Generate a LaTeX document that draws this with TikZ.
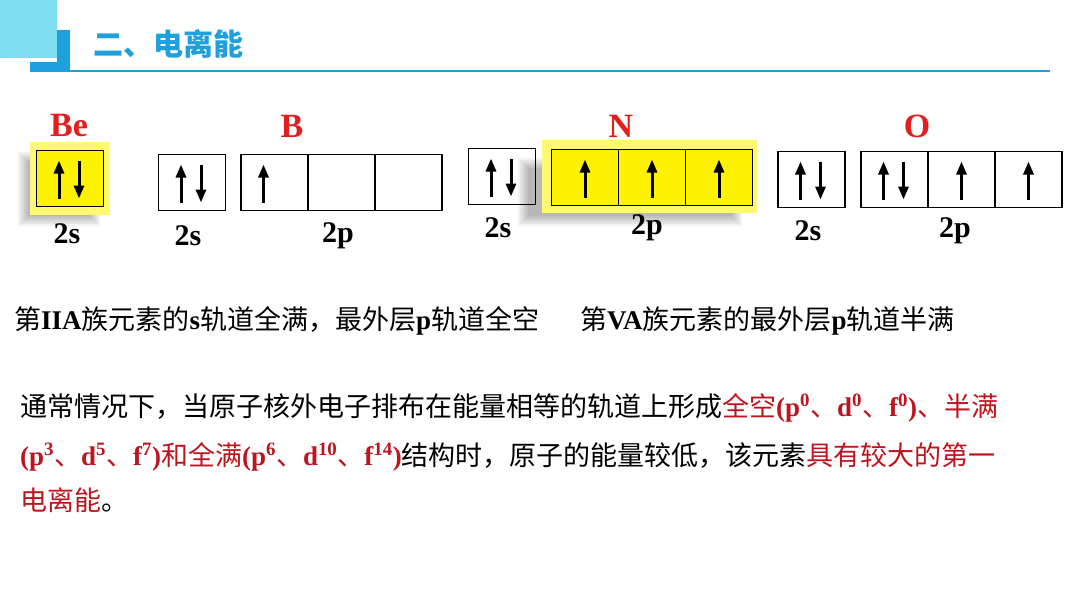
\documentclass[tikz,border=0pt]{standalone}
\usepackage{fontspec}
\setmainfont{Liberation Serif}
\newfontfamily\cjk{Noto Sans CJK SC}
\usetikzlibrary{arrows.meta,positioning}
\definecolor{hdblue}{RGB}{30,160,220}
\definecolor{hdlight}{RGB}{125,220,240}
\definecolor{elred}{RGB}{226,30,30}
\definecolor{txred}{RGB}{190,20,30}
\newcommand\zh[1]{{\cjk\mdseries #1}}
\newcommand\spinup[2]{\draw[spin]([xshift=#2,yshift=8pt]#1.south)--([xshift=#2,yshift=-10pt]#1.north);}
\newcommand\spindn[2]{\draw[spin]([xshift=#2,yshift=-10pt]#1.north)--([xshift=#2,yshift=8pt]#1.south);}
\newcommand\softshadow[4]{\foreach\k in{0,2,...,10}{\fill[black,fill opacity=.05](#1+\k,#2+\k)rectangle(#3-\k,#4-\k);}}

\begin{document}
\begin{tikzpicture}[x=1pt,y=-1pt,every node/.style={font=\fontsize{27}{32}\selectfont\bfseries},
  cell/.style={draw,line width=1.8pt,minimum width=67pt,minimum height=56pt,inner sep=0pt,outer sep=0pt},
  spin/.style={line width=3pt,-{Triangle[length=13pt,width=10pt]}},
  elem/.style={text=elred,font=\fontsize{34}{38}\selectfont\bfseries},
  orbl/.style={font=\fontsize{30}{34}\selectfont\bfseries},
  line/.style={anchor=base west,inner sep=0pt}]
\useasboundingbox(0,0)rectangle(1080,608);
\fill[white](0,0)rectangle(1080,608);
% header
\fill[hdlight](0,0)rectangle(57,58);
\fill[hdblue](57,30)rectangle(70,72);\fill[hdblue](30,62)rectangle(70,72);
\draw[hdblue,line width=1.5pt](70,71)--(1050,71);
\node[anchor=west,text=hdblue,font=\fontsize{30}{34}\selectfont\cjk\bfseries](title)at(90,44){二、电离能};
% Be
\softshadow{18}{152}{100}{226}
\fill[yellow!55](30,142)rectangle(110,215);
\node[cell,fill=yellow](bes)at(70,178.5){};
\spinup{bes}{-11pt}\spindn{bes}{9pt}
\node[elem](belab)at(69,126){Be};\node[orbl](bes2)at(67,234){2s};
% B
\node[cell](bs)at(192,182.5){};
\node[cell](bp1)at(274.5,182.5){};\node[cell,right=0pt of bp1](bp2){};\node[cell,right=0pt of bp2](bp3){};
\spinup{bs}{-11pt}\spindn{bs}{9pt}\spinup{bp1}{-11pt}
\node[elem](blab)at(292,126){B};\node[orbl](bs2)at(188,236){2s};\node[orbl](bp2l)at(338,236){2p};
% N
\softshadow{518}{158}{742}{226}
\fill[yellow!55](542,140)rectangle(757,213);
\node[cell](ns)at(502,176.5){};
\node[cell,fill=yellow](np1)at(585,177.5){};\node[cell,fill=yellow,right=0pt of np1](np2){};\node[cell,fill=yellow,right=0pt of np2](np3){};
\spinup{ns}{-11pt}\spindn{ns}{9pt}\spinup{np1}{0pt}\spinup{np2}{0pt}\spinup{np3}{0pt}
\node[elem](nlab)at(621,126){N};\node[orbl](ns2)at(498,228){2s};\node[orbl](np2l)at(647,228){2p};
% O
\node[cell](os)at(811.5,179.5){};
\node[cell](op1)at(894.5,179.5){};\node[cell,right=0pt of op1](op2){};\node[cell,right=0pt of op2](op3){};
\spinup{os}{-11pt}\spindn{os}{9pt}\spinup{op1}{-11pt}\spindn{op1}{9pt}\spinup{op2}{0pt}\spinup{op3}{0pt}
\node[elem](olab)at(917,126){O};\node[orbl](os2)at(808,231){2s};\node[orbl](op2l)at(955,231){2p};
% text
\node[line](ln1)at(14,329){\zh{第}IIA\zh{族元素的}s\zh{轨道全满，最外层}p\zh{轨道全空}};
\node[line](ln2)at(580,329){\zh{第}VA\zh{族元素的最外层}p\zh{轨道半满}};
\node[line](pa1)at(20,416){\zh{通常情况下，当原子核外电子排布在能量相等的轨道上形成}\color{txred}\zh{全空}(p\textsuperscript{0}\zh{、}d\textsuperscript{0}\zh{、}f\textsuperscript{0})\zh{、半满}};
\node[line](pa2)at(20,465){\color{txred}(p\textsuperscript{3}\zh{、}d\textsuperscript{5}\zh{、}f\textsuperscript{7})\zh{和全满}(p\textsuperscript{6}\zh{、}d\textsuperscript{10}\zh{、}f\textsuperscript{14})\color{black}\zh{结构时，原子的能量较低，该元素}\color{txred}\zh{具有较大的第一}};
\node[line](pa3)at(20,510){{\color{txred}\zh{电离能}}\zh{。}};
\end{tikzpicture}
\end{document}
